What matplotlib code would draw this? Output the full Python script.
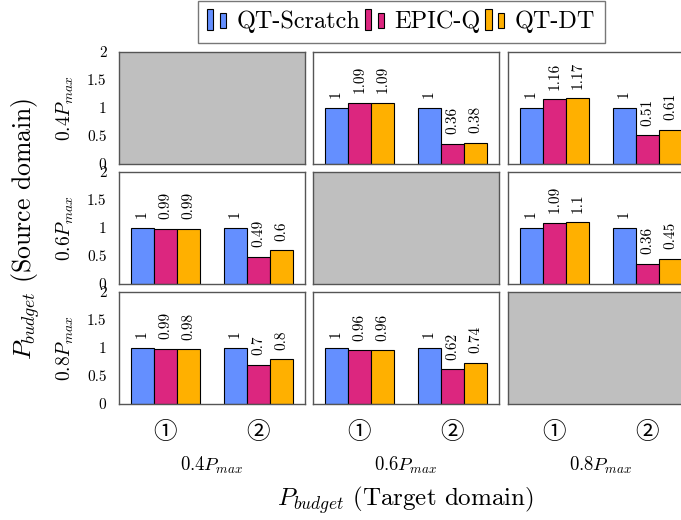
import matplotlib.pyplot as plt
from matplotlib.patches import Rectangle
from matplotlib.legend_handler import HandlerBase

plt.rcParams['font.family'] = ['cmr10', 'DejaVu Sans']
plt.rcParams['mathtext.fontset'] = 'cm'
plt.rcParams['axes.unicode_minus'] = False

# data: rows = source budget, cols = target budget, None = same domain (grey)
budgets = ['$0.4P_{max}$', '$0.6P_{max}$', '$0.8P_{max}$']
methods = ['QT-Scratch', 'EPIC-Q', 'QT-DT']
colors = ['#648FFF', '#DC267F', '#FFB000']
groups = ['①', '②']

results = [
    [None,
     [[1, 1.09, 1.09], [1, 0.36, 0.38]],
     [[1, 1.16, 1.17], [1, 0.51, 0.61]]],
    [[[1, 0.99, 0.99], [1, 0.49, 0.6]],
     None,
     [[1, 1.09, 1.1], [1, 0.36, 0.45]]],
    [[[1, 0.99, 0.98], [1, 0.7, 0.8]],
     [[1, 0.96, 0.96], [1, 0.62, 0.74]],
     None],
]

fig = plt.figure(figsize=(6.81, 5.20), dpi=100)

lefts = [119, 313, 508]
tops = [52, 172, 292]
W, H = 186, 112
bw = 0.25

for r in range(3):
    for c in range(3):
        ax = fig.add_axes([lefts[c] / 681, 1 - (tops[r] + H) / 520, W / 681, H / 520])
        data = results[r][c]
        if data is None:
            ax.set_facecolor('#bfbfbf')
        else:
            for g, vals in enumerate(data):
                for m, v in enumerate(vals):
                    x = g + 1 + (m - 1) * bw
                    ax.bar(x, v, bw, color=colors[m], edgecolor='black', linewidth=0.8, zorder=2)
                    ax.text(x, v + 0.17, f'{v:g}', rotation=90, ha='center', va='bottom',
                            fontsize=11)
        ax.set_xlim(0.5, 2.5)
        ax.set_ylim(0, 2)
        for s in ax.spines.values():
            s.set_color('#555555')
            s.set_linewidth(1.0)
        ax.tick_params(length=0)
        ax.set_yticks([0, 0.5, 1, 1.5, 2])
        if c == 0:
            ax.set_yticklabels(['0', '0.5', '1', '1.5', '2'], fontsize=11)
            ax.tick_params(axis='y', pad=9)
            ax.set_ylabel(budgets[r], fontsize=14, labelpad=8)
        else:
            ax.set_yticklabels([])
        ax.set_xticks([1, 2])
        if r == 2:
            ax.set_xticklabels(groups, fontsize=17, family=['Noto Sans CJK JP', 'DejaVu Sans'])
            ax.tick_params(axis='x', pad=12)
            ax.set_xlabel(budgets[c], fontsize=13.5, labelpad=8)
        else:
            ax.set_xticklabels([])

fig.text(0.037, 0.56, '$P_{budget}$ (Source domain)', rotation=90, ha='center', va='center',
         fontsize=18.5)
fig.text(0.595, 0.038, '$P_{budget}$ (Target domain)', ha='center', va='center', fontsize=18)


class TwoBarHandler(HandlerBase):
    def create_artists(self, legend, orig_handle, xdescent, ydescent, width, height, fontsize, trans):
        fc = orig_handle.get_facecolor()
        w = width * 0.3
        a = Rectangle((-xdescent, -ydescent - 0.1 * height), w, height * 1.2, facecolor=fc,
                      edgecolor='black', linewidth=0.8, transform=trans)
        b = Rectangle((-xdescent + width * 0.62, -ydescent), w, height * 0.9, facecolor=fc,
                      edgecolor='black', linewidth=0.8, transform=trans)
        return [a, b]


handles = [Rectangle((0, 0), 1, 1, facecolor=col) for col in colors]
fig.legend(handles, methods, loc='center', bbox_to_anchor=(0.589, 0.958), ncol=3,
           handler_map={Rectangle: TwoBarHandler()}, fontsize=17.5, frameon=True,
           fancybox=False, edgecolor='#555555', handlelength=0.85, handletextpad=0.35,
           columnspacing=0.2, borderpad=0.4, borderaxespad=0)

fig.savefig('out.png', dpi=100)
